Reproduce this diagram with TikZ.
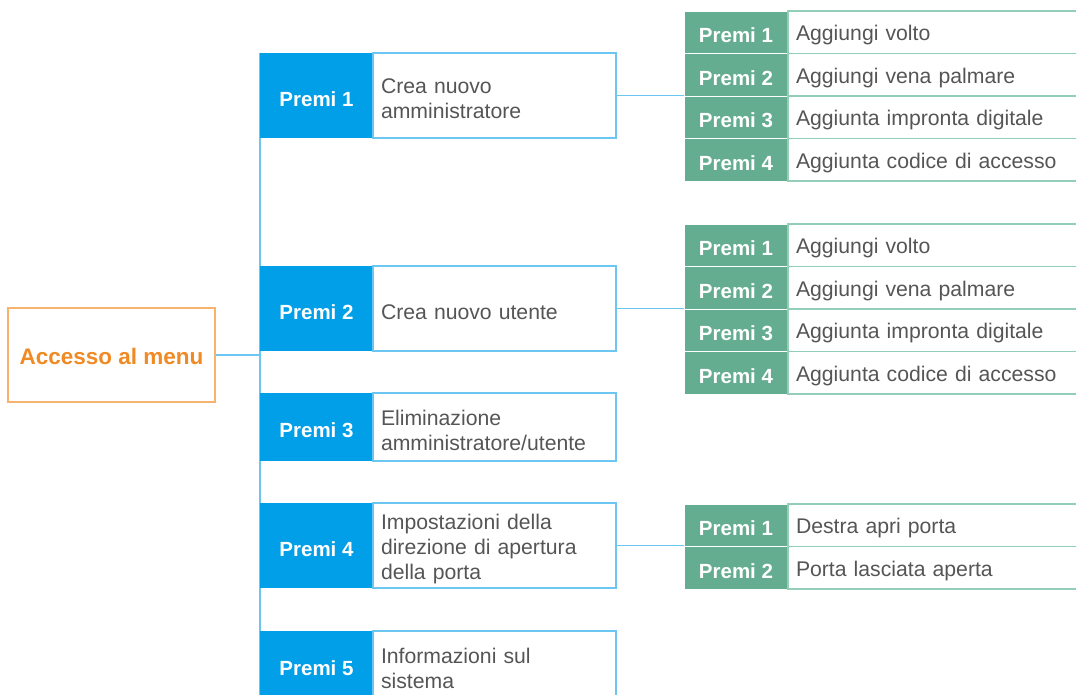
\documentclass[tikz,border=0pt]{standalone}
\usepackage{fontspec}
\setmainfont{Liberation Sans}
\usetikzlibrary{positioning,backgrounds}

\definecolor{keyblue}{HTML}{009FE8}
\definecolor{lineblue}{HTML}{6CC6F2}
\definecolor{keygreen}{HTML}{64AD90}
\definecolor{linegreen}{HTML}{93CFB8}
\definecolor{rootorange}{HTML}{F08A24}
\definecolor{edgeorange}{HTML}{F7B26E}
\definecolor{textgray}{HTML}{555555}

\newcommand{\keyfont}{\fontsize{20.5}{25}\selectfont}
\newcommand{\bodyfont}{\fontsize{21.2}{25}\selectfont}
% taller first line, so the text sits a little lower in its box
\newcommand{\lowerby}[1]{\rule{0pt}{#1}}

\tikzset{
  rootbox/.style={draw=edgeorange, line width=1.2pt, text=rootorange,
    font=\bfseries\fontsize{22.5}{26}\selectfont, anchor=north west,
    minimum width=207pt, minimum height=94pt, outer sep=0pt,
    execute at begin node=\lowerby{20pt}},
  bluekey/.style={fill=keyblue, text=white, font=\bfseries\keyfont,
    anchor=north west, minimum width=113pt, inner sep=0pt, outer sep=0pt,
    execute at begin node=\lowerby{21.5pt}},
  bluedesc/.style={draw=lineblue, line width=1.2pt, text=textgray, font=\bodyfont,
    align=left, text width=227pt, inner xsep=8pt, inner ysep=0pt, outer sep=0pt,
    execute at begin node=\lowerby{21.5pt}},
  greenkey/.style={fill=keygreen, draw=white, line width=1pt, text=white,
    font=\bfseries\keyfont, anchor=north west, minimum width=104pt,
    minimum height=42.5pt, inner sep=0pt, outer sep=0pt,
    execute at begin node=\lowerby{21.5pt}},
  greendesc/.style={draw=linegreen, line width=1.2pt, text=textgray, font=\bodyfont,
    align=left, text width=276pt, inner xsep=8pt, inner ysep=0pt,
    minimum height=42.5pt, outer sep=0pt,
    execute at begin node=\lowerby{21.5pt}},
  link/.style={draw=lineblue, line width=1.3pt}
}

\begin{document}
\begin{tikzpicture}[x=1pt, y=-1pt]

  % Frame
  \useasboundingbox (0,0) rectangle (1076,694);

  % Root
  \node[rootbox] (root) at (8,308) {Accesso al menu};

  % Menu keys
  \node[bluekey, minimum height=85pt] (k1) at (260,53) {Premi 1};
  \node[bluedesc, minimum height=85pt, right=0pt of k1] (d1) {Crea nuovo\\amministratore};

  \node[bluekey, minimum height=85pt] (k2) at (260,266) {Premi 2};
  \node[bluedesc, minimum height=85pt, right=0pt of k2] (d2) {Crea nuovo utente};

  \node[bluekey, minimum height=68pt] (k3) at (260,393) {Premi 3};
  \node[bluedesc, minimum height=68pt, right=0pt of k3] (d3) {Eliminazione\\amministratore/utente};

  \node[bluekey, minimum height=85pt] (k4) at (260,503) {Premi 4};
  \node[bluedesc, minimum height=85pt, right=0pt of k4] (d4) {Impostazioni della\\direzione di apertura\\della porta};

  \node[bluekey, minimum height=68pt] (k5) at (260,631) {Premi 5};
  \node[bluedesc, minimum height=68pt, right=0pt of k5] (d5) {Informazioni sul\\sistema};

  % Administrator options
  \node[greenkey] (ga1) at (684,11) {Premi 1};
  \node[greendesc, right=0pt of ga1] (ta1) {Aggiungi volto};
  \node[greenkey, below=0pt of ga1] (ga2) {Premi 2};
  \node[greendesc, right=0pt of ga2] (ta2) {Aggiungi vena palmare};
  \node[greenkey, below=0pt of ga2] (ga3) {Premi 3};
  \node[greendesc, right=0pt of ga3] (ta3) {Aggiunta impronta digitale};
  \node[greenkey, below=0pt of ga3] (ga4) {Premi 4};
  \node[greendesc, right=0pt of ga4] (ta4) {Aggiunta codice di accesso};

  % User options
  \node[greenkey] (gb1) at (684,224) {Premi 1};
  \node[greendesc, right=0pt of gb1] (tb1) {Aggiungi volto};
  \node[greenkey, below=0pt of gb1] (gb2) {Premi 2};
  \node[greendesc, right=0pt of gb2] (tb2) {Aggiungi vena palmare};
  \node[greenkey, below=0pt of gb2] (gb3) {Premi 3};
  \node[greendesc, right=0pt of gb3] (tb3) {Aggiunta impronta digitale};
  \node[greenkey, below=0pt of gb3] (gb4) {Premi 4};
  \node[greendesc, right=0pt of gb4] (tb4) {Aggiunta codice di accesso};

  % Door options
  \node[greenkey] (gc1) at (684,504) {Premi 1};
  \node[greendesc, right=0pt of gc1] (tc1) {Destra apri porta};
  \node[greenkey, below=0pt of gc1] (gc2) {Premi 2};
  \node[greendesc, right=0pt of gc2] (tc2) {Porta lasciata aperta};

  % Connectors
  \begin{scope}[on background layer]
    \draw[link] (root.east) -- (root.east -| k2.west);
    \draw[link] (k1.north west) -- (k5.south west);
    \draw[link] (d1.east) -- (d1.east -| ga3.west);
    \draw[link] (d2.east) -- (d2.east -| gb3.west);
    \draw[link] (d4.east) -- (d4.east -| gc2.west);
  \end{scope}

\end{tikzpicture}
\end{document}
